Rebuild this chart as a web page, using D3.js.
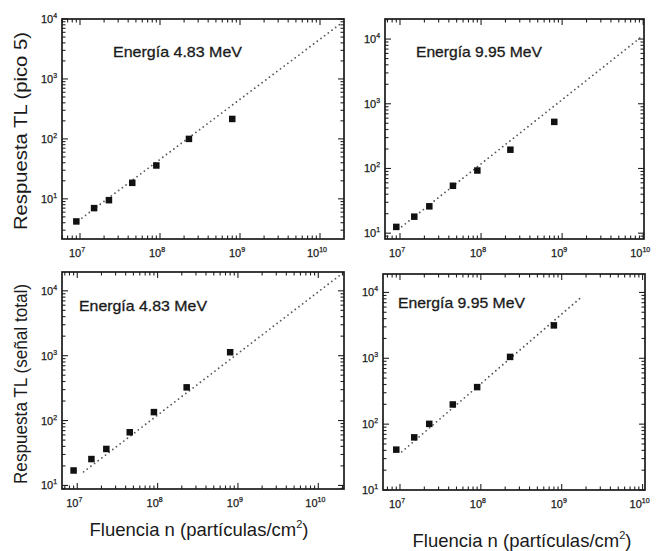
<!DOCTYPE html>
<html>
<head>
<meta charset="utf-8">
<script src="https://cdn.jsdelivr.net/npm/d3@7"></script>
<style>
  html, body { margin: 0; padding: 0; background: #fff; }
  svg { display: block; }
  text { font-family: "Liberation Sans", Arial, sans-serif; fill: #1a1a1a; }
</style>
</head>
<body>
<div id="chart"></div>
<script>
// ---------------- data ----------------
const fluence = [9e6, 1.5e7, 2.3e7, 4.5e7, 9e7, 2.3e8, 8e8];          // partículas/cm²
const respPico5_483  = [4.2, 7, 9.5, 18.5, 36, 100, 215];
const respPico5_995  = [12.5, 18, 26, 54, 93, 195, 525];
const respTotal_483  = [17, 25.5, 36.5, 66, 135, 325, 1130];
const respTotal_995  = [41, 63, 101, 199, 365, 1050, 3160];
const fitPico5_483   = [[9.5e6, 4.3], [1.8e10, 8300]];
const fitPico5_995   = [[1.05e7, 12.6], [9.5e9, 10800]];
const fitTotal_483   = [[1.2e7, 16.2], [1.86e10, 17400]];
const fitTotal_995   = [[1.05e7, 38], [1.75e9, 8500]];
const xTickExponents = [7, 8, 9, 10];
const yTickExponents = [1, 2, 3, 4];
const energyLabels   = ["Energía 4.83 MeV", "Energía 9.95 MeV"];
const yTitles        = ["Respuesta TL (pico 5)", "Respuesta TL (señal total)"];
const xTitle         = "Fluencia n (partículas/cm";

// ---------------- layout ----------------
const W = 660, H = 551;
const svg = d3.select("#chart").append("svg").attr("width", W).attr("height", H);
svg.append("rect").attr("width", W).attr("height", H).attr("fill", "#fff");

const panels = [
  { l: 62,  t: 19,  r: 344, b: 239, xd: [6.775, 10.3], yd: [0.33, 4.0],
    y: respPico5_483, fit: fitPico5_483, label: energyLabels[0], lx: 113, ly: 57, lw: 129 },
  { l: 385, t: 19,  r: 644, b: 239, xd: [6.815, 10.01], yd: [0.91, 4.31],
    y: respPico5_995, fit: fitPico5_995, label: energyLabels[1], lx: 416, ly: 57, lw: 126 },
  { l: 62,  t: 272, r: 344, b: 489, xd: [6.81, 10.32], yd: [0.945, 4.29],
    y: respTotal_483, fit: fitTotal_483, label: energyLabels[0], lx: 79, ly: 311, lw: 128 },
  { l: 383, t: 274, r: 645, b: 490, xd: [6.79, 10.03], yd: [1.0, 4.28],
    y: respTotal_995, fit: fitTotal_995, label: energyLabels[1], lx: 398, ly: 308, lw: 127 }
];

function isMajor(v) {
  const e = Math.log10(v);
  return Math.abs(e - Math.round(e)) < 1e-6;
}

panels.forEach(p => {
  const x = d3.scaleLog().domain([Math.pow(10, p.xd[0]), Math.pow(10, p.xd[1])]).range([p.l, p.r]);
  const y = d3.scaleLog().domain([Math.pow(10, p.yd[0]), Math.pow(10, p.yd[1])]).range([p.b, p.t]);
  const g = svg.append("g");

  // ticks (all inward, on four sides)
  const xt = x.ticks().filter(v => x(v) >= p.l - 0.1 && x(v) <= p.r + 0.1);
  const yt = y.ticks().filter(v => y(v) <= p.b + 0.1 && y(v) >= p.t - 0.1);
  const tg = g.append("g").attr("stroke", "#222").attr("stroke-width", 1.1);
  xt.forEach(v => {
    const len = isMajor(v) ? 6 : 3.5;
    tg.append("line").attr("x1", x(v)).attr("x2", x(v)).attr("y1", p.b).attr("y2", p.b - len);
    tg.append("line").attr("x1", x(v)).attr("x2", x(v)).attr("y1", p.t).attr("y2", p.t + len);
  });
  yt.forEach(v => {
    const len = isMajor(v) ? 6 : 3.5;
    tg.append("line").attr("y1", y(v)).attr("y2", y(v)).attr("x1", p.l).attr("x2", p.l + len);
    tg.append("line").attr("y1", y(v)).attr("y2", y(v)).attr("x1", p.r).attr("x2", p.r - len);
  });

  // frame
  g.append("rect").attr("x", p.l).attr("y", p.t).attr("width", p.r - p.l).attr("height", p.b - p.t)
    .attr("fill", "none").attr("stroke", "#1a1a1a").attr("stroke-width", 1.7);

  // tick labels
  xTickExponents.forEach(e => {
    const v = Math.pow(10, e);
    if (x(v) < p.l - 20 || x(v) > p.r + 20) return;
    const t = g.append("text").attr("x", x(v) - 3).attr("y", p.b + 18)
      .attr("text-anchor", "middle").style("font-size", "11px")
      .attr("stroke", "#1a1a1a").attr("stroke-width", 0.25);
    t.append("tspan").text("10");
    t.append("tspan").attr("dy", -5).style("font-size", "7px").text(e);
  });
  yTickExponents.forEach(e => {
    const v = Math.pow(10, e);
    if (y(v) > p.b + 8 || y(v) < p.t - 8) return;
    const t = g.append("text").attr("x", p.l - 13).attr("y", y(v) + 4)
      .attr("text-anchor", "middle").style("font-size", "11px")
      .attr("stroke", "#1a1a1a").attr("stroke-width", 0.25);
    t.append("tspan").text("10");
    t.append("tspan").attr("dy", -5).style("font-size", "7px").text(e);
  });

  // dotted fit line
  g.append("path")
    .attr("d", d3.line().x(d => x(d[0])).y(d => y(d[1]))(p.fit))
    .attr("fill", "none").attr("stroke", "#555").attr("stroke-width", 1.8)
    .attr("stroke-linecap", "round").attr("stroke-dasharray", "0,4.6");

  // markers
  const s = 6.5;
  g.selectAll("rect.pt").data(fluence.map((f, i) => [f, p.y[i]])).enter()
    .append("rect").attr("class", "pt")
    .attr("x", d => x(d[0]) - s / 2).attr("y", d => y(d[1]) - s / 2)
    .attr("width", s).attr("height", s).attr("fill", "#111");

  // energy label
  g.append("text").attr("x", p.lx).attr("y", p.ly)
    .attr("textLength", p.lw).attr("lengthAdjust", "spacingAndGlyphs")
    .attr("stroke", "#1a1a1a").attr("stroke-width", 0.3)
    .style("font-size", "15px").text(p.label);
});

// axis titles
svg.append("text").attr("transform", "translate(27,131) rotate(-90)")
  .attr("text-anchor", "middle").attr("textLength", 198).attr("lengthAdjust", "spacingAndGlyphs")
  .style("font-size", "18px").text(yTitles[0]);
svg.append("text").attr("transform", "translate(27,384) rotate(-90)")
  .attr("text-anchor", "middle").attr("textLength", 200).attr("lengthAdjust", "spacingAndGlyphs")
  .style("font-size", "17.5px").text(yTitles[1]);

[[199, 536], [522, 547]].forEach(([cx, cy]) => {
  const t = svg.append("text").attr("x", cx).attr("y", cy).attr("text-anchor", "middle")
    .style("font-size", "18.5px");
  t.append("tspan").text(xTitle);
  t.append("tspan").attr("dy", -8).style("font-size", "11px").text("2");
  t.append("tspan").attr("dy", 8).text(")");
});
</script>
</body>
</html>
